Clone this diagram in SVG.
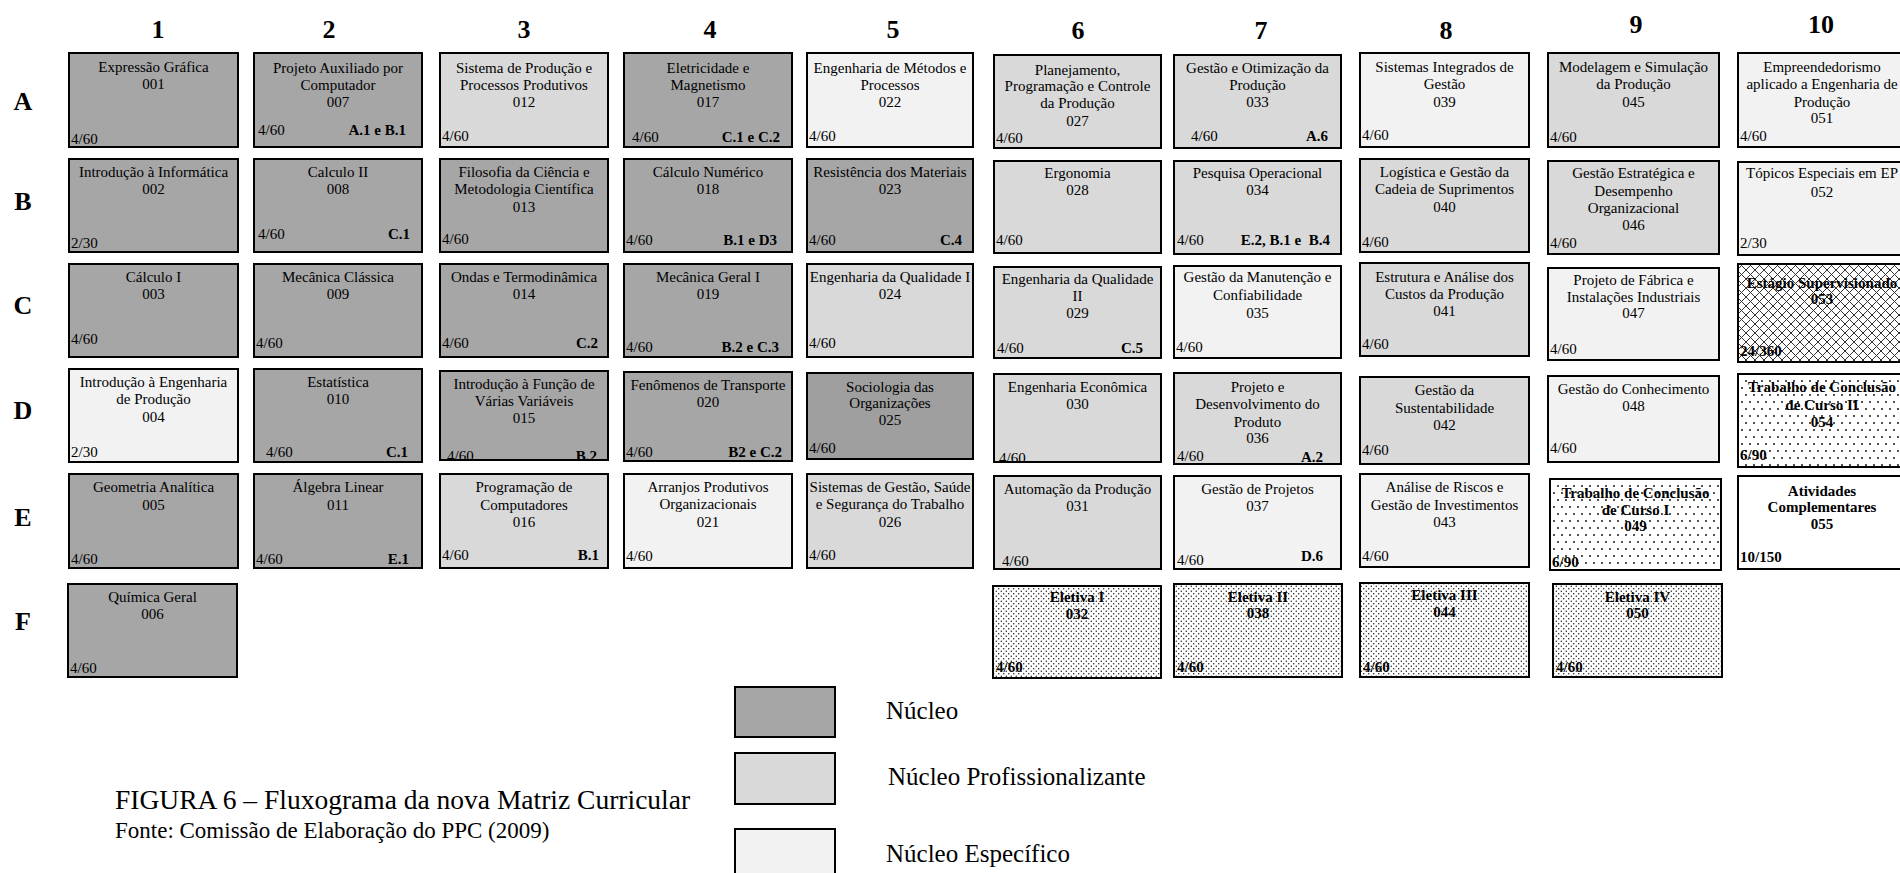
<svg xmlns="http://www.w3.org/2000/svg" width="1900" height="873" viewBox="0 0 1900 873">
<style>
text{font-family:"Liberation Serif","Times New Roman",serif;fill:#000}
.hd{font-size:26px;font-weight:bold;text-anchor:middle}
.t{font-size:15px;text-anchor:middle}
.tb{font-size:15px;text-anchor:middle;font-weight:bold}
.l{font-size:15px}
.lb{font-size:15px;font-weight:bold}
.q{font-size:15px;font-weight:bold;text-anchor:end}
.n,.nd,.p,.e,.w,.x,.d,.dd,.o{stroke:#000;stroke-width:2}
.n{fill:#a6a6a6}
.nd{fill:#9f9f9f}
.p{fill:#d9d9d9}
.e{fill:#f2f2f2}
.w{fill:#fff}
.o{fill:none}
.x{fill:url(#cross)}
.d{fill:url(#dots)}
.dd{fill:url(#dense)}
.cap{font-size:27.5px}
.src{font-size:23px}
.leg{font-size:25px}
</style>
<defs>
<pattern id="cross" patternUnits="userSpaceOnUse" width="9" height="9">
<rect x="0" y="0" width="9" height="9" fill="#fff"/>
<path d="M0,0 L9,9 M9,0 L0,9" stroke="#333" stroke-width="1"/>
</pattern>
<pattern id="dots" patternUnits="userSpaceOnUse" width="8" height="14">
<rect x="0" y="0" width="8" height="14" fill="#fff"/>
<circle cx="2" cy="3" r="0.9" fill="#000"/>
<circle cx="6" cy="10" r="0.9" fill="#000"/>
</pattern>
<pattern id="dense" patternUnits="userSpaceOnUse" width="5" height="5">
<rect x="0" y="0" width="5" height="5" fill="#fff"/>
<circle cx="1.25" cy="1.25" r="0.65" fill="#000"/>
<circle cx="3.75" cy="3.75" r="0.65" fill="#000"/>
</pattern>
</defs>
<rect x="0" y="0" width="1900" height="873" fill="#fff"/>

<g id="headers">
<text class="hd" x="158" y="38">1</text>
<text class="hd" x="329" y="38">2</text>
<text class="hd" x="524" y="38">3</text>
<text class="hd" x="710" y="38">4</text>
<text class="hd" x="893" y="38">5</text>
<text class="hd" x="1078" y="39">6</text>
<text class="hd" x="1261" y="39">7</text>
<text class="hd" x="1446" y="39">8</text>
<text class="hd" x="1636" y="33">9</text>
<text class="hd" x="1821" y="33">10</text>
<text class="hd" x="23" y="110">A</text>
<text class="hd" x="23" y="210">B</text>
<text class="hd" x="23" y="314">C</text>
<text class="hd" x="23" y="419">D</text>
<text class="hd" x="23" y="526">E</text>
<text class="hd" x="23" y="630">F</text>
</g>

<g id="connectors"></g>

<!-- Row A -->
<g id="d001"><rect class="n" x="69" y="53" width="169" height="94"/><text class="t" x="153.5" y="72">Expressão Gráfica</text><text class="t" x="153.5" y="89">001</text><text class="l" x="71" y="144">4/60</text></g>
<g id="d007"><rect class="n" x="254" y="53" width="168" height="94"/><text class="t" x="338" y="73">Projeto Auxiliado por</text><text class="t" x="338" y="90">Computador</text><text class="t" x="338" y="107">007</text><text class="l" x="258" y="135">4/60</text><text class="q" x="406" y="135">A.1 e B.1</text></g>
<g id="d012"><rect class="p" x="440" y="53" width="168" height="94"/><text class="t" x="524" y="73">Sistema de Produção e</text><text class="t" x="524" y="90">Processos Produtivos</text><text class="t" x="524" y="107">012</text><text class="l" x="442" y="141">4/60</text></g>
<g id="d017"><rect class="n" x="624" y="53" width="168" height="94"/><text class="t" x="708" y="73">Eletricidade e</text><text class="t" x="708" y="90">Magnetismo</text><text class="t" x="708" y="107">017</text><text class="l" x="632" y="142">4/60</text><text class="q" x="780" y="142">C.1 e C.2</text></g>
<g id="d022"><rect class="e" x="807" y="53" width="166" height="94"/><text class="t" x="890" y="73">Engenharia de Métodos e</text><text class="t" x="890" y="90">Processos</text><text class="t" x="890" y="107">022</text><text class="l" x="809" y="141">4/60</text></g>
<g id="d027"><rect class="p" x="994" y="55" width="167" height="93"/><text class="t" x="1077.5" y="75">Planejamento,</text><text class="t" x="1077.5" y="91">Programação e Controle</text><text class="t" x="1077.5" y="108">da Produção</text><text class="t" x="1077.5" y="126">027</text><text class="l" x="996" y="143">4/60</text></g>
<g id="d033"><rect class="p" x="1174" y="55" width="167" height="93"/><text class="t" x="1257.5" y="73">Gestão e Otimização da</text><text class="t" x="1257.5" y="90">Produção</text><text class="t" x="1257.5" y="107">033</text><text class="l" x="1191" y="141">4/60</text><text class="q" x="1328" y="141">A.6</text></g>
<g id="d039"><rect class="e" x="1360" y="53" width="169" height="94"/><text class="t" x="1444.5" y="72">Sistemas Integrados de</text><text class="t" x="1444.5" y="89">Gestão</text><text class="t" x="1444.5" y="107">039</text><text class="l" x="1362" y="140">4/60</text></g>
<g id="d045"><rect class="p" x="1548" y="53" width="171" height="94"/><text class="t" x="1633.5" y="72">Modelagem e Simulação</text><text class="t" x="1633.5" y="89">da Produção</text><text class="t" x="1633.5" y="107">045</text><text class="l" x="1550" y="142">4/60</text></g>
<g id="d051"><rect class="e" x="1738" y="53" width="168" height="94"/><text class="t" x="1822" y="72">Empreendedorismo</text><text class="t" x="1822" y="89">aplicado a Engenharia de</text><text class="t" x="1822" y="107">Produção</text><text class="t" x="1822" y="123">051</text><text class="l" x="1740" y="141">4/60</text></g>

<!-- Row B -->
<g id="d002"><rect class="n" x="69" y="159" width="169" height="93"/><text class="t" x="153.5" y="177">Introdução à Informática</text><text class="t" x="153.5" y="194">002</text><text class="l" x="71" y="248">2/30</text></g>
<g id="d008"><rect class="n" x="254" y="159" width="168" height="93"/><text class="t" x="338" y="177">Calculo II</text><text class="t" x="338" y="194">008</text><text class="l" x="258" y="239">4/60</text><text class="q" x="410" y="239">C.1</text></g>
<g id="d013"><rect class="n" x="440" y="159" width="168" height="93"/><text class="t" x="524" y="177">Filosofia da Ciência e</text><text class="t" x="524" y="194">Metodologia Científica</text><text class="t" x="524" y="212">013</text><text class="l" x="442" y="244">4/60</text></g>
<g id="d018"><rect class="n" x="624" y="159" width="168" height="93"/><text class="t" x="708" y="177">Cálculo Numérico</text><text class="t" x="708" y="194">018</text><text class="l" x="626" y="245">4/60</text><text class="q" x="777" y="245">B.1 e D3</text></g>
<g id="d023"><rect class="n" x="807" y="159" width="166" height="93"/><text class="t" x="890" y="177">Resistência dos Materiais</text><text class="t" x="890" y="194">023</text><text class="l" x="809" y="245">4/60</text><text class="q" x="962" y="245">C.4</text></g>
<g id="d028"><rect class="p" x="994" y="161" width="167" height="92"/><text class="t" x="1077.5" y="178">Ergonomia</text><text class="t" x="1077.5" y="195">028</text><text class="l" x="996" y="245">4/60</text></g>
<g id="d034"><rect class="p" x="1174" y="161" width="167" height="93"/><text class="t" x="1257.5" y="178">Pesquisa Operacional</text><text class="t" x="1257.5" y="195">034</text><text class="l" x="1177" y="245">4/60</text><text class="q" x="1330" y="245">E.2, B.1 e&#160; B.4</text></g>
<g id="d040"><rect class="p" x="1360" y="159" width="169" height="93"/><text class="t" x="1444.5" y="177">Logística e Gestão da</text><text class="t" x="1444.5" y="194">Cadeia de Suprimentos</text><text class="t" x="1444.5" y="212">040</text><text class="l" x="1362" y="247">4/60</text></g>
<g id="d046"><rect class="p" x="1548" y="161" width="171" height="93"/><text class="t" x="1633.5" y="178">Gestão Estratégica e</text><text class="t" x="1633.5" y="196">Desempenho</text><text class="t" x="1633.5" y="213">Organizacional</text><text class="t" x="1633.5" y="230">046</text><text class="l" x="1550" y="248">4/60</text></g>
<g id="d052"><rect class="e" x="1738" y="162" width="168" height="93"/><text class="t" x="1822" y="178">Tópicos Especiais em EP</text><text class="t" x="1822" y="197">052</text><text class="l" x="1740" y="248">2/30</text></g>

<!-- Row C -->
<g id="d003"><rect class="n" x="69" y="264" width="169" height="93"/><text class="t" x="153.5" y="282">Cálculo I</text><text class="t" x="153.5" y="299">003</text><text class="l" x="71" y="344">4/60</text></g>
<g id="d009"><rect class="n" x="254" y="264" width="168" height="93"/><text class="t" x="338" y="282">Mecânica Clássica</text><text class="t" x="338" y="299">009</text><text class="l" x="256" y="348">4/60</text></g>
<g id="d014"><rect class="n" x="440" y="264" width="168" height="93"/><text class="t" x="524" y="282">Ondas e Termodinâmica</text><text class="t" x="524" y="299">014</text><text class="l" x="442" y="348">4/60</text><text class="q" x="598" y="348">C.2</text></g>
<g id="d019"><rect class="n" x="624" y="264" width="168" height="93"/><text class="t" x="708" y="282">Mecânica Geral I</text><text class="t" x="708" y="299">019</text><text class="l" x="626" y="352">4/60</text><text class="q" x="779" y="352">B.2 e C.3</text></g>
<g id="d024"><rect class="p" x="807" y="264" width="166" height="93"/><text class="t" x="890" y="282">Engenharia da Qualidade I</text><text class="t" x="890" y="299">024</text><text class="l" x="809" y="348">4/60</text></g>
<g id="d029"><rect class="p" x="994" y="267" width="167" height="91"/><text class="t" x="1077.5" y="284">Engenharia da Qualidade</text><text class="t" x="1077.5" y="301">II</text><text class="t" x="1077.5" y="318">029</text><text class="l" x="997" y="353">4/60</text><text class="q" x="1143" y="353">C.5</text></g>
<g id="d035"><rect class="e" x="1174" y="266" width="167" height="92"/><text class="t" x="1257.5" y="282">Gestão da Manutenção e</text><text class="t" x="1257.5" y="300">Confiabilidade</text><text class="t" x="1257.5" y="318">035</text><text class="l" x="1176" y="352">4/60</text></g>
<g id="d041"><rect class="p" x="1360" y="263" width="169" height="93"/><text class="t" x="1444.5" y="282">Estrutura e Análise dos</text><text class="t" x="1444.5" y="299">Custos da Produção</text><text class="t" x="1444.5" y="316">041</text><text class="l" x="1362" y="349">4/60</text></g>
<g id="d047"><rect class="e" x="1548" y="268" width="171" height="92"/><text class="t" x="1633.5" y="285">Projeto de Fábrica e</text><text class="t" x="1633.5" y="302">Instalações Industriais</text><text class="t" x="1633.5" y="318">047</text><text class="l" x="1550" y="354">4/60</text></g>
<g id="d053"><rect class="x" x="1738" y="264" width="168" height="98"/><text class="tb" x="1822" y="288">Estágio Supervisionado</text><text class="tb" x="1822" y="304">053</text><text class="lb" x="1740" y="356">24/360</text></g>

<!-- Row D -->
<g id="d004"><rect class="e" x="69" y="369" width="169" height="93"/><text class="t" x="153.5" y="387">Introdução à Engenharia</text><text class="t" x="153.5" y="404">de Produção</text><text class="t" x="153.5" y="422">004</text><text class="l" x="71" y="457">2/30</text></g>
<g id="d010"><rect class="n" x="254" y="369" width="168" height="93"/><text class="t" x="338" y="387">Estatística</text><text class="t" x="338" y="404">010</text><text class="l" x="266" y="457">4/60</text><text class="q" x="408" y="457">C.1</text></g>
<g id="d015"><rect class="n" x="440" y="371" width="168" height="89"/><text class="t" x="524" y="389">Introdução à Função de</text><text class="t" x="524" y="406">Várias Variáveis</text><text class="t" x="524" y="423">015</text><text class="l" x="447" y="461">4/60</text><text class="q" x="597" y="461">B.2</text><rect class="o" x="440" y="371" width="168" height="89"/></g>
<g id="d020"><rect class="n" x="624" y="372" width="168" height="89"/><text class="t" x="708" y="390">Fenômenos de Transporte</text><text class="t" x="708" y="407">020</text><text class="l" x="626" y="457">4/60</text><text class="q" x="782" y="457">B2 e C.2</text></g>
<g id="d025"><rect class="nd" x="807" y="373" width="166" height="86"/><text class="t" x="890" y="392">Sociologia das</text><text class="t" x="890" y="408">Organizações</text><text class="t" x="890" y="425">025</text><text class="l" x="809" y="453">4/60</text></g>
<g id="d030"><rect class="p" x="994" y="374" width="167" height="88"/><text class="t" x="1077.5" y="392">Engenharia Econômica</text><text class="t" x="1077.5" y="409">030</text><text class="l" x="999" y="463">4/60</text><rect class="o" x="994" y="374" width="167" height="88"/></g>
<g id="d036"><rect class="p" x="1174" y="373" width="167" height="91"/><text class="t" x="1257.5" y="392">Projeto e</text><text class="t" x="1257.5" y="409">Desenvolvimento do</text><text class="t" x="1257.5" y="427">Produto</text><text class="t" x="1257.5" y="443">036</text><text class="l" x="1177" y="461">4/60</text><text class="q" x="1323" y="462">A.2</text></g>
<g id="d042"><rect class="p" x="1360" y="377" width="169" height="87"/><text class="t" x="1444.5" y="395">Gestão da</text><text class="t" x="1444.5" y="413">Sustentabilidade</text><text class="t" x="1444.5" y="430">042</text><text class="l" x="1362" y="455">4/60</text></g>
<g id="d048"><rect class="e" x="1548" y="376" width="171" height="86"/><text class="t" x="1633.5" y="394">Gestão do Conhecimento</text><text class="t" x="1633.5" y="411">048</text><text class="l" x="1550" y="453">4/60</text></g>
<g id="d054"><rect class="d" x="1738" y="374" width="168" height="93"/><text class="tb" x="1822" y="392">Trabalho de Conclusão</text><text class="tb" x="1822" y="410">de Curso II</text><text class="tb" x="1822" y="427">054</text><text class="lb" x="1740" y="460">6/90</text></g>

<!-- Row E -->
<g id="d005"><rect class="n" x="69" y="474" width="169" height="94"/><text class="t" x="153.5" y="492">Geometria Analítica</text><text class="t" x="153.5" y="510">005</text><text class="l" x="71" y="564">4/60</text></g>
<g id="d011"><rect class="n" x="254" y="474" width="168" height="94"/><text class="t" x="338" y="492">Álgebra Linear</text><text class="t" x="338" y="510">011</text><text class="l" x="256" y="564">4/60</text><text class="q" x="409" y="564">E.1</text></g>
<g id="d016"><rect class="p" x="440" y="474" width="168" height="94"/><text class="t" x="524" y="492">Programação de</text><text class="t" x="524" y="510">Computadores</text><text class="t" x="524" y="527">016</text><text class="l" x="442" y="560">4/60</text><text class="q" x="599" y="560">B.1</text></g>
<g id="d021"><rect class="e" x="624" y="474" width="168" height="94"/><text class="t" x="708" y="492">Arranjos Produtivos</text><text class="t" x="708" y="509">Organizacionais</text><text class="t" x="708" y="527">021</text><text class="l" x="626" y="561">4/60</text></g>
<g id="d026"><rect class="p" x="807" y="474" width="166" height="94"/><text class="t" x="890" y="492">Sistemas de Gestão, Saúde</text><text class="t" x="890" y="509">e Segurança do Trabalho</text><text class="t" x="890" y="527">026</text><text class="l" x="809" y="560">4/60</text></g>
<g id="d031"><rect class="p" x="994" y="476" width="167" height="93"/><text class="t" x="1077.5" y="494">Automação da Produção</text><text class="t" x="1077.5" y="511">031</text><text class="l" x="1002" y="566">4/60</text></g>
<g id="d037"><rect class="e" x="1174" y="476" width="167" height="93"/><text class="t" x="1257.5" y="494">Gestão de Projetos</text><text class="t" x="1257.5" y="511">037</text><text class="l" x="1177" y="565">4/60</text><text class="q" x="1323" y="561">D.6</text></g>
<g id="d043"><rect class="e" x="1360" y="474" width="169" height="93"/><text class="t" x="1444.5" y="492">Análise de Riscos e</text><text class="t" x="1444.5" y="510">Gestão de Investimentos</text><text class="t" x="1444.5" y="527">043</text><text class="l" x="1362" y="561">4/60</text></g>
<g id="d049"><rect class="d" x="1550" y="479" width="171" height="91"/><text class="tb" x="1635.5" y="498">Trabalho de Conclusão</text><text class="tb" x="1635.5" y="515">de Curso I</text><text class="tb" x="1635.5" y="531">049</text><text class="lb" x="1552" y="567">6/90</text></g>
<g id="d055"><rect class="w" x="1738" y="476" width="168" height="93"/><text class="tb" x="1822" y="496">Atividades</text><text class="tb" x="1822" y="512">Complementares</text><text class="tb" x="1822" y="529">055</text><text class="lb" x="1740" y="562">10/150</text></g>

<!-- Row F -->
<g id="d006"><rect class="n" x="68" y="584" width="169" height="93"/><text class="t" x="152.5" y="602">Química Geral</text><text class="t" x="152.5" y="619">006</text><text class="l" x="70" y="673">4/60</text></g>
<g id="d032"><rect class="dd" x="993" y="586" width="168" height="92"/><text class="tb" x="1077" y="602">Eletiva I</text><text class="tb" x="1077" y="619">032</text><text class="lb" x="996" y="672">4/60</text></g>
<g id="d038"><rect class="dd" x="1174" y="584" width="168" height="93"/><text class="tb" x="1258" y="602">Eletiva II</text><text class="tb" x="1258" y="618">038</text><text class="lb" x="1177" y="672">4/60</text></g>
<g id="d044"><rect class="dd" x="1360" y="583" width="169" height="94"/><text class="tb" x="1444.5" y="600">Eletiva III</text><text class="tb" x="1444.5" y="617">044</text><text class="lb" x="1363" y="672">4/60</text></g>
<g id="d050"><rect class="dd" x="1553" y="584" width="169" height="93"/><text class="tb" x="1637.5" y="602">Eletiva IV</text><text class="tb" x="1637.5" y="618">050</text><text class="lb" x="1556" y="672">4/60</text></g>

<!-- Legend -->
<g id="legend">
<rect class="n" x="735" y="687" width="100" height="50"/>
<text class="leg" x="886" y="719">Núcleo</text>
<rect class="p" x="735" y="753" width="100" height="51"/>
<text class="leg" x="888" y="785">Núcleo Profissionalizante</text>
<rect class="e" x="735" y="829" width="100" height="52"/>
<text class="leg" x="886" y="862">Núcleo Específico</text>
</g>

<g id="caption">
<text class="cap" x="115" y="809">FIGURA 6 – Fluxograma da nova Matriz Curricular</text>
<text class="src" x="115" y="838">Fonte: Comissão de Elaboração do PPC (2009)</text>
</g>
</svg>
